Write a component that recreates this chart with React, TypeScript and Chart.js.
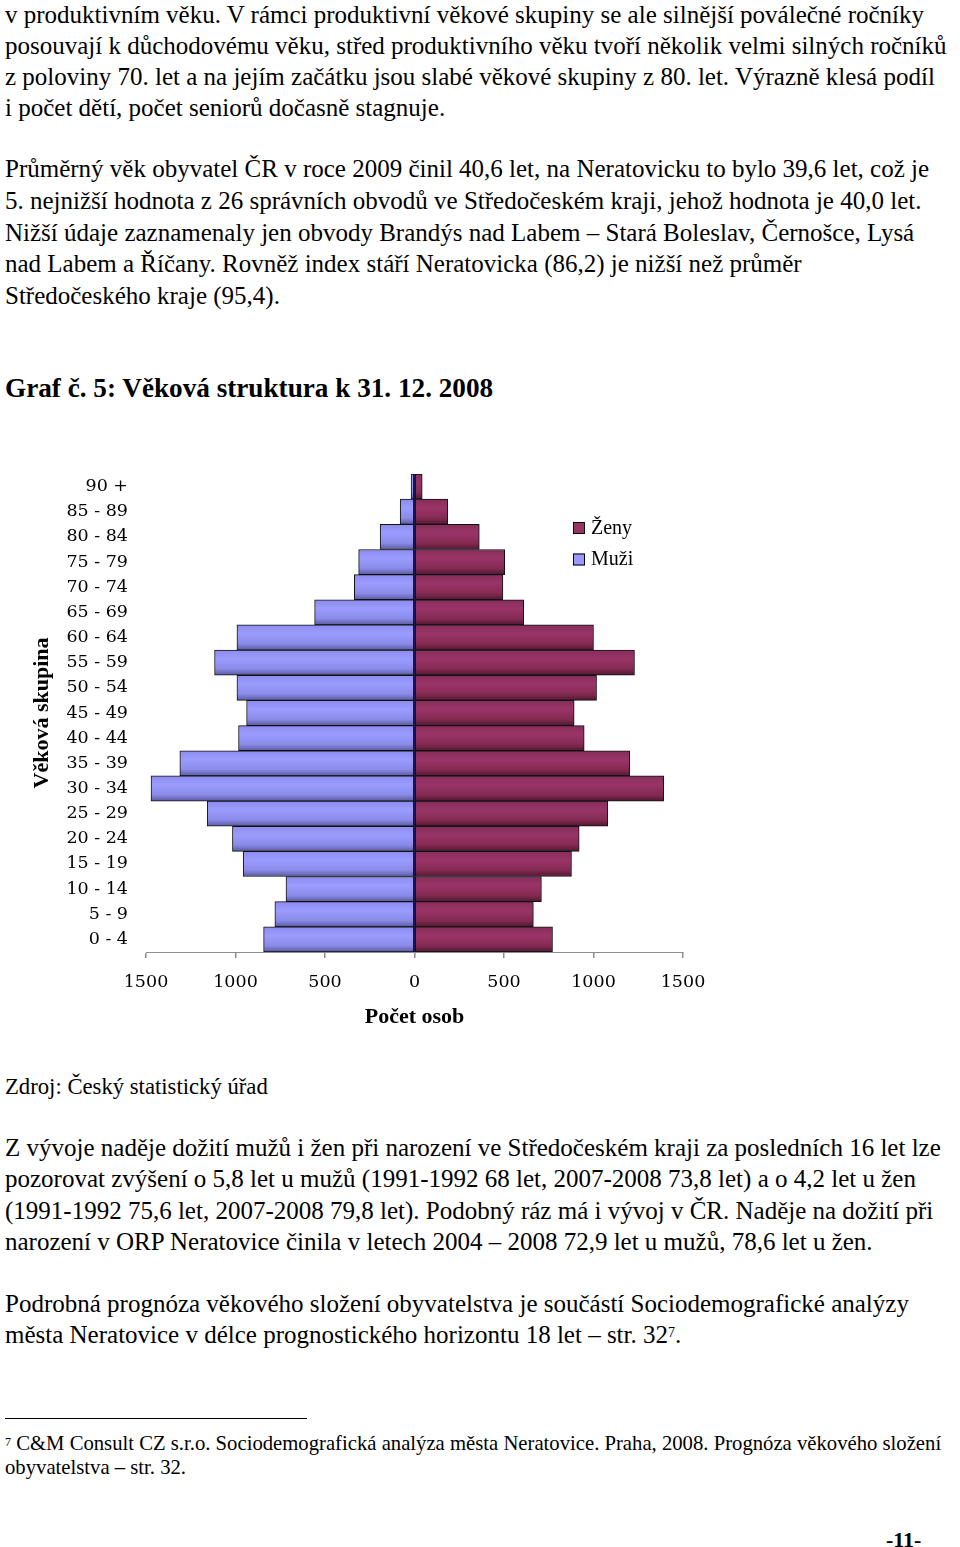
import React, { useEffect, useRef } from "react";
import { Chart, registerables } from "chart.js";

Chart.register(...registerables);

// ---- data (top row of the pyramid first) ----
const ageGroups = [
  "90 +", "85 - 89", "80 - 84", "75 - 79", "70 - 74", "65 - 69", "60 - 64",
  "55 - 59", "50 - 54", "45 - 49", "40 - 44", "35 - 39", "30 - 34", "25 - 29",
  "20 - 24", "15 - 19", "10 - 14", "5 - 9", "0 - 4",
];
const men = [19, 80, 192, 312, 336, 558, 992, 1117, 992, 938, 983, 1311, 1472, 1158, 1017, 957, 718, 780, 843];
const women = [43, 186, 362, 504, 494, 610, 1000, 1229, 1017, 892, 948, 1203, 1392, 1080, 920, 877, 709, 664, 771];
const xMin = -1500;
const xMax = 1500;
const xStep = 500;
const menLabel = "Muži";
const womenLabel = "Ženy";
const xTitle = "Počet osob";
const yTitle = "Věková skupina";

const MEN_COLOR = "#9999ff";
const WOMEN_COLOR = "#993366";
const MEN_STOPS = ["#8c8cee", "#9c9cff", "#8a8ae8", "#5a5a9c"];
const WOMEN_STOPS = ["#862e5a", "#9a3468", "#842a52", "#4e1832"];

const TICK_FONT = { family: "'DejaVu Serif', serif", size: 17.5 };
const TITLE_FONT = { family: "'Liberation Serif', serif", size: 22, weight: "bold" as const };

function gradientFill(stops: string[], base: string) {
  return (c: any) => {
    const chart = c.chart;
    const ys = chart.scales && chart.scales.y;
    const area = chart.chartArea;
    if (!ys || !area || c.dataIndex === undefined) return base;
    const center = ys.getPixelForValue(c.dataIndex);
    const h = (area.bottom - area.top) / ageGroups.length;
    const g = chart.ctx.createLinearGradient(0, center - h / 2, 0, center + h / 2);
    g.addColorStop(0, stops[0]);
    g.addColorStop(0.35, stops[1]);
    g.addColorStop(0.75, stops[2]);
    g.addColorStop(1, stops[3]);
    return g;
  };
}

const legendPlugin = {
  id: "pyramidLegend",
  afterDraw(chart: any) {
    const { ctx, chartArea } = chart;
    const items = [
      { label: womenLabel, color: WOMEN_COLOR },
      { label: menLabel, color: MEN_COLOR },
    ];
    const x = chartArea.right - 110;
    const y0 = chartArea.top + 48;
    ctx.save();
    items.forEach((it, i) => {
      const by = y0 + i * 31.5;
      ctx.fillStyle = it.color;
      ctx.fillRect(x, by, 12, 12);
      ctx.strokeStyle = "#000";
      ctx.lineWidth = 1;
      ctx.strokeRect(x + 0.5, by + 0.5, 11, 11);
      ctx.fillStyle = "#000";
      ctx.font = "20px 'Liberation Serif', serif";
      ctx.textBaseline = "middle";
      ctx.textAlign = "left";
      ctx.fillText(it.label, x + 18, by + 6.5);
    });
    ctx.restore();
  },
};

function PyramidChart() {
  const ref = useRef<HTMLCanvasElement>(null);
  useEffect(() => {
    if (!ref.current) return;
    const chart = new Chart(ref.current, {
      type: "bar",
      data: {
        labels: ageGroups,
        datasets: [
          {
            label: menLabel,
            data: men.map((v) => -v),
            backgroundColor: gradientFill(MEN_STOPS, MEN_COLOR) as any,
            borderColor: "#111",
            borderWidth: 1,
            borderSkipped: false,
          },
          {
            label: womenLabel,
            data: women,
            backgroundColor: gradientFill(WOMEN_STOPS, WOMEN_COLOR) as any,
            borderColor: "#111",
            borderWidth: 1,
            borderSkipped: false,
          },
        ],
      },
      options: {
        indexAxis: "y",
        animation: false,
        responsive: false,
        layout: { padding: { top: 14, right: 57, left: 0, bottom: 0 } },
        datasets: { bar: { barPercentage: 1, categoryPercentage: 1 } },
        plugins: {
          legend: { display: false },
          tooltip: { enabled: false },
        },
        scales: {
          x: {
            stacked: true,
            min: xMin,
            max: xMax,
            ticks: {
              stepSize: xStep,
              callback: (v: any) => String(Math.abs(Number(v))),
              font: TICK_FONT,
              color: "#000",
              padding: 14,
              maxRotation: 0,
              autoSkip: false,
            },
            grid: {
              color: (c: any) => (c.tick && c.tick.value === 0 ? "#1a1a50" : "rgba(0,0,0,0)"),
              lineWidth: 1.5,
              tickColor: "#8c8c8c",
              tickLength: 6,
              drawTicks: true,
              drawOnChartArea: true,
            },
            border: { display: true, color: "#8c8c8c", width: 1 },
            title: {
              display: true,
              text: xTitle,
              font: TITLE_FONT,
              color: "#000",
              padding: { top: 0, bottom: 9 },
            },
            afterFit: (s: any) => {
              s.height = 88;
              s.paddingLeft = 0;
              s.paddingRight = 0;
            },
          },
          y: {
            stacked: true,
            grid: { display: false, drawTicks: false },
            border: { display: false },
            ticks: { font: TICK_FONT, color: "#000", padding: 18, autoSkip: false },
            title: {
              display: true,
              text: yTitle,
              font: TITLE_FONT,
              color: "#000",
              padding: { top: 29, bottom: 0 },
            },
            afterFit: (s: any) => {
              s.width = 146;
              s.paddingTop = 0;
              s.paddingBottom = 0;
            },
          },
        },
      } as any,
      plugins: [legendPlugin],
    });
    return () => chart.destroy();
  }, []);
  return (
    <canvas
      ref={ref}
      width={740}
      height={580}
      style={{ position: "absolute", left: 0, top: 460, width: 740, height: 580 }}
    />
  );
}

const BODY = "'Liberation Serif', serif";

function Block({ top, lines, size = 25, lh = 31, bold = false }: { top: number; lines: React.ReactNode[]; size?: number; lh?: number; bold?: boolean }) {
  return (
    <div
      style={{
        position: "absolute",
        left: 5,
        top,
        fontFamily: BODY,
        fontSize: size,
        lineHeight: lh + "px",
        fontWeight: bold ? "bold" : "normal",
        whiteSpace: "pre",
        color: "#000",
      }}
    >
      {lines.map((l, i) => (
        <div key={i}>{l}</div>
      ))}
    </div>
  );
}

export default function App() {
  return (
    <div
      style={{
        position: "absolute",
        left: 0,
        top: 0,
        width: 960,
        height: 1547,
        background: "#fff",
        overflow: "hidden",
      }}
    >
      <Block
        top={-1}
        lines={[
          "v produktivním věku. V rámci produktivní věkové skupiny se ale silnější poválečné ročníky",
          "posouvají k důchodovému věku, střed produktivního věku tvoří několik velmi silných ročníků",
          "z poloviny 70. let a na jejím začátku jsou slabé věkové skupiny z 80. let. Výrazně klesá podíl",
          "i počet dětí, počet seniorů dočasně stagnuje.",
        ]}
      />
      <Block
        top={153}
        lh={31.75}
        lines={[
          "Průměrný věk obyvatel ČR v roce 2009 činil 40,6 let, na Neratovicku to bylo 39,6 let, což je",
          "5. nejnižší hodnota z 26 správních obvodů ve Středočeském kraji, jehož hodnota je 40,0 let.",
          "Nižší údaje zaznamenaly jen obvody Brandýs nad Labem – Stará Boleslav, Černošce, Lysá",
          "nad Labem a Říčany. Rovněž index stáří Neratovicka (86,2) je nižší než průměr",
          "Středočeského kraje (95,4).",
        ]}
      />
      <Block top={372} size={27.2} lh={32} bold lines={["Graf č. 5: Věková struktura k 31. 12. 2008"]} />

      <PyramidChart />

      <Block top={1071} size={22.7} lines={["Zdroj: Český statistický úřad"]} />
      <Block
        top={1132}
        lh={31.3}
        lines={[
          "Z vývoje naděje dožití mužů i žen při narození ve Středočeském kraji za posledních 16 let lze",
          "pozorovat zvýšení o 5,8 let u mužů (1991-1992 68 let, 2007-2008 73,8 let) a o 4,2 let u žen",
          "(1991-1992 75,6 let, 2007-2008 79,8 let). Podobný ráz má i vývoj v ČR. Naděje na dožití při",
          "narození v ORP Neratovice činila v letech 2004 – 2008 72,9 let u mužů, 78,6 let u žen.",
        ]}
      />
      <Block
        top={1288}
        lh={31}
        lines={[
          "Podrobná prognóza věkového složení obyvatelstva je součástí Sociodemografické analýzy",
          <span>
            města Neratovice v délce prognostického horizontu 18 let – str. 32
            <sup style={{ fontSize: 14, verticalAlign: "6px", lineHeight: 0 }}>7</sup>.
          </span>,
        ]}
      />
      <div style={{ position: "absolute", left: 5, top: 1418, width: 302, height: 1, background: "#000" }} />
      <Block
        top={1431}
        size={20.7}
        lh={24}
        lines={[
          <span>
            <sup style={{ fontSize: 12, verticalAlign: "4px", lineHeight: 0 }}>7</sup> C&amp;M Consult CZ s.r.o. Sociodemografická analýza města Neratovice. Praha, 2008. Prognóza věkového složení
          </span>,
          "obyvatelstva – str. 32.",
        ]}
      />
      <div
        style={{
          position: "absolute",
          left: 886,
          top: 1528,
          fontFamily: BODY,
          fontSize: 22,
          fontWeight: "bold",
          lineHeight: "24px",
          whiteSpace: "pre",
        }}
      >
        -11-
      </div>
    </div>
  );
}
